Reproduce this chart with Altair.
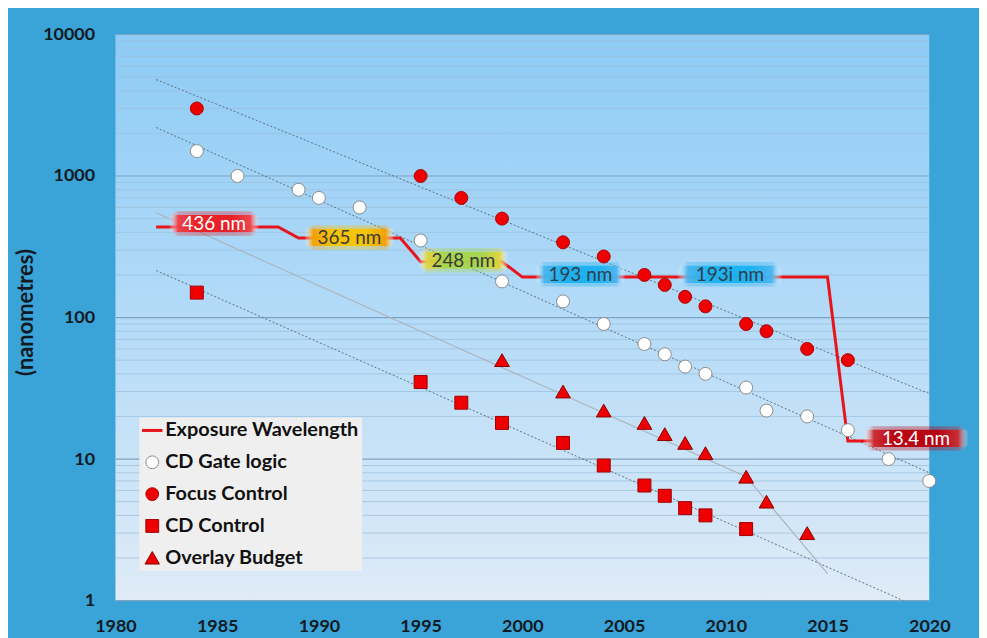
import altair as alt
import pandas as pd

# ---------------- data ----------------
series_order = ["Exposure Wavelength", "CD Gate logic", "Focus Control", "CD Control", "Overlay Budget"]

wl_years = [1982, 1988, 1989, 1994, 1995, 1999, 2000, 2015, 2016, 2020]
wl_values = [436, 436, 365, 365, 248, 248, 193, 193, 13.4, 13.4]

gate_years = [1984, 1986, 1989, 1990, 1992, 1995, 1999, 2002, 2004, 2006, 2007, 2008, 2009, 2011, 2012, 2014, 2016, 2018, 2020]
gate_values = [1500, 1000, 800, 700, 600, 350, 180, 130, 90, 65, 55, 45, 40, 32, 22, 20, 16, 10, 7]

focus_years = [1984, 1995, 1997, 1999, 2002, 2004, 2006, 2007, 2008, 2009, 2011, 2012, 2014, 2016]
focus_values = [3000, 1000, 700, 500, 340, 270, 200, 170, 140, 120, 90, 80, 60, 50]

cd_years = [1984, 1995, 1997, 1999, 2002, 2004, 2006, 2007, 2008, 2009, 2011]
cd_values = [150, 35, 25, 18, 13, 9, 6.5, 5.5, 4.5, 4, 3.2]

overlay_years = [1999, 2002, 2004, 2006, 2007, 2008, 2009, 2011, 2012, 2014]
overlay_values = [50, 30, 22, 18, 15, 13, 11, 7.5, 5, 3]

# trend lines (dotted) and overlay trend (solid light)
trend_focus_years = [1982, 2020]
trend_focus_values = [4800, 29]
trend_gate_years = [1982, 2020]
trend_gate_values = [2200, 8]
trend_cd_years = [1982, 2020]
trend_cd_values = [215, 0.83]
trend_overlay_years = [1982, 2011, 2015]
trend_overlay_values = [550, 7.5, 1.55]

# wavelength annotations
wl_labels = ["436 nm", "365 nm", "248 nm", "193 nm", "193i nm", "13.4 nm"]
wl_label_years = [1984.85, 1991.5, 1997.1, 2002.85, 2010.2, 2019.35]
wl_label_values = [462, 368, 254, 202, 202, 14]
wl_label_mid = ["#ea1c22", "#f7c400", "#a6d64a", "#19b2f0", "#19b2f0", "#b8000c"]
wl_label_edge = ["#f04048", "#f5a000", "#e2d43a", "#4ab4ee", "#4ab4ee", "#cc2a30"]
wl_label_text = ["#ffffff", "#3a3a3a", "#3a3a3a", "#2f3f4f", "#2f3f4f", "#ffffff"]

x_ticks = [1980, 1985, 1990, 1995, 2000, 2005, 2010, 2015, 2020]
y_major = [1, 10, 100, 1000, 10000]
y_minor = [m * 10 ** e for e in range(0, 4) for m in range(2, 10)]

# ---------------- tables ----------------
pts = []
for name, ys, vs in [("CD Gate logic", gate_years, gate_values),
                     ("Focus Control", focus_years, focus_values),
                     ("CD Control", cd_years, cd_values)]:
    pts += [{"year": y, "value": v, "series": name} for y, v in zip(ys, vs)]
pts_df = pd.DataFrame(pts)
tri_df = pd.DataFrame({"year": overlay_years, "value": overlay_values,
                       "series": ["Overlay Budget"] * len(overlay_years)})

wl_df = pd.DataFrame({"year": wl_years, "value": wl_values})

dotted = []
for name, ys, vs in [("focus", trend_focus_years, trend_focus_values),
                     ("gate", trend_gate_years, trend_gate_values),
                     ("cd", trend_cd_years, trend_cd_values)]:
    dotted += [{"year": y, "value": v, "trend": name} for y, v in zip(ys, vs)]
dotted_df = pd.DataFrame(dotted)
overlay_trend_df = pd.DataFrame({"year": trend_overlay_years, "value": trend_overlay_values})

lab_df = pd.DataFrame({"text": wl_labels, "year": wl_label_years, "value": wl_label_values})

# ---------------- scales / axes ----------------
FONT = "Lato"
AX_COL = "#111a22"
W, H = 818, 569
xscale = alt.Scale(domain=[1980, 2020], nice=False, zero=False)
yscale = alt.Scale(type="log", domain=[1, 10000], nice=False)
xaxis = alt.Axis(values=x_ticks, format="d", title=None, grid=False, ticks=False, domain=False,
                 labelFlush=False, labelOverlap=False,
                 labelFont=FONT, labelFontSize=18, labelFontWeight="bold", labelColor=AX_COL,
                 labelPadding=17)
yaxis = alt.Axis(values=y_major, format="d", ticks=False, domain=False, grid=False,
                 labelFlush=False, labelOverlap=False,
                 labelFont=FONT, labelFontSize=18, labelFontWeight="bold", labelColor=AX_COL,
                 labelPadding=21,
                 title="(nanometres)", titleFont=FONT, titleFontSize=22, titleFontWeight="bold",
                 titleColor=AX_COL, titleX=-90, titleY=279, titleAngle=270,
                 titleAlign="center", titleBaseline="middle")


def X(field):
    return alt.X(field, type="quantitative", scale=xscale, axis=xaxis)


def Y(field):
    return alt.Y(field, type="quantitative", scale=yscale, axis=yaxis, title="(nanometres)")


# ---------------- layers ----------------
bg_grad = {"gradient": "linear", "x1": 0, "y1": 0, "x2": 0, "y2": 1,
           "stops": [{"offset": 0, "color": "#8dcbf5"},
                     {"offset": 0.5, "color": "#b4dbf8"},
                     {"offset": 1, "color": "#dfebf7"}]}
bg_layer = alt.Chart(pd.DataFrame({"k": [0]})).mark_rect(fill=bg_grad).encode(
    x=alt.value(0), x2=alt.value(W), y=alt.value(0), y2=alt.value(H)
)

minor_grid = alt.Chart(pd.DataFrame({"g": y_minor})).mark_rule(
    stroke="#9dbfdc", strokeWidth=1, opacity=0.75
).encode(y=Y("g"), x=alt.value(0), x2=alt.value(W))
major_grid = alt.Chart(pd.DataFrame({"g": y_major})).mark_rule(
    stroke="#7ea3c2", strokeWidth=1.2
).encode(y=Y("g"), x=alt.value(0), x2=alt.value(W))

dotted_layer = alt.Chart(dotted_df).mark_line(
    stroke="#5d7182", strokeWidth=1, strokeDash=[2, 2], clip=True
).encode(x=X("year"), y=Y("value"), detail="trend:N")

overlay_trend_layer = alt.Chart(overlay_trend_df).mark_line(
    stroke="#aab4bd", strokeWidth=1.2, clip=True
).encode(x=X("year"), y=Y("value"))

wl_layer = alt.Chart(wl_df).mark_line(
    stroke="#e8141b", strokeWidth=3, strokeJoin="miter"
).encode(x=X("year"), y=Y("value"))

box_layers = []
for i, t in enumerate(wl_labels):
    mid = wl_label_mid[i]
    edge = wl_label_edge[i]
    grad = {
        "gradient": "linear", "x1": 0, "x2": 1, "y1": 0, "y2": 0,
        "stops": [
            {"offset": 0.0, "color": "rgba(255,255,255,0)"},
            {"offset": 0.1, "color": edge},
            {"offset": 0.3, "color": mid},
            {"offset": 0.7, "color": mid},
            {"offset": 0.9, "color": edge},
            {"offset": 1.0, "color": "rgba(255,255,255,0)"},
        ],
    }
    base = alt.Chart(lab_df).transform_filter(
        alt.datum.text == t
    ).transform_calculate(
        x_lo="datum.year - 0.37 * length(datum.text)",
        x_hi="datum.year + 0.37 * length(datum.text)",
        y_lo="datum.value / 1.15",
        y_hi="datum.value * 1.15",
        y_lo2="datum.value / 1.22",
        y_hi2="datum.value * 1.22",
    )
    halo = base.mark_rect(fill=grad, cornerRadius=9, opacity=0.35).encode(
        x=X("x_lo:Q"), x2="x_hi:Q", y=Y("y_lo2:Q"), y2="y_hi2:Q"
    )
    core = base.mark_rect(fill=grad, cornerRadius=5, opacity=0.95).encode(
        x=X("x_lo:Q"), x2="x_hi:Q", y=Y("y_lo:Q"), y2="y_hi:Q"
    )
    box_layers += [halo, core]

text_layer = alt.Chart(lab_df).mark_text(
    font=FONT, fontSize=19, baseline="middle", align="center", dy=1
).encode(
    x=X("year"), y=Y("value"), text="text:N",
    color=alt.Color("text:N", scale=alt.Scale(domain=wl_labels, range=wl_label_text), legend=None),
)

legend = alt.Legend(
    title=None, orient="none", legendX=24, legendY=385, fillColor="#efefef",
    padding=3, labelFont=FONT, labelFontSize=20, labelFontWeight="bold", labelColor="#111111",
    labelOffset=3, rowPadding=12, labelLimit=400,
    symbolSize={"expr": "datum.value == 'Exposure Wavelength' ? 420 : "
                        "(datum.value == 'Overlay Budget' ? 210 : 165)"},
    symbolStrokeWidth={"expr": "datum.value == 'Exposure Wavelength' ? 3 : 1"},
)
enc = dict(
    x=X("year"), y=Y("value"),
    fill=alt.Fill("series:N", scale=alt.Scale(domain=series_order,
                  range=["#e8141b", "#ffffff", "#ee0000", "#ee0000", "#ee0000"]), legend=legend),
    stroke=alt.Stroke("series:N", scale=alt.Scale(domain=series_order,
                      range=["#e8141b", "#8a8a8a", "#b00000", "#a00000", "#8b0000"]), legend=legend),
    shape=alt.Shape("series:N", scale=alt.Scale(domain=series_order,
                    range=["stroke", "circle", "circle", "square", "triangle-up"]), legend=legend),
)
point_layer = alt.Chart(pts_df).mark_point(opacity=1, size=170, strokeWidth=1).encode(**enc)
tri_layer = alt.Chart(tri_df).mark_point(opacity=1, size=220, strokeWidth=1).encode(**enc)

chart = alt.layer(
    bg_layer, minor_grid, major_grid, dotted_layer, overlay_trend_layer, wl_layer,
    *box_layers, text_layer, point_layer, tri_layer
).properties(
    width=W, height=H,
    autosize=alt.AutoSizeParams(type="none"),
    padding={"left": 108, "top": 25, "right": 50, "bottom": 36},
    background="#3aa3d8",
).configure_view(
    stroke=None,
)

chart.save("out.html", embed_options={"renderer": "svg", "actions": False})
